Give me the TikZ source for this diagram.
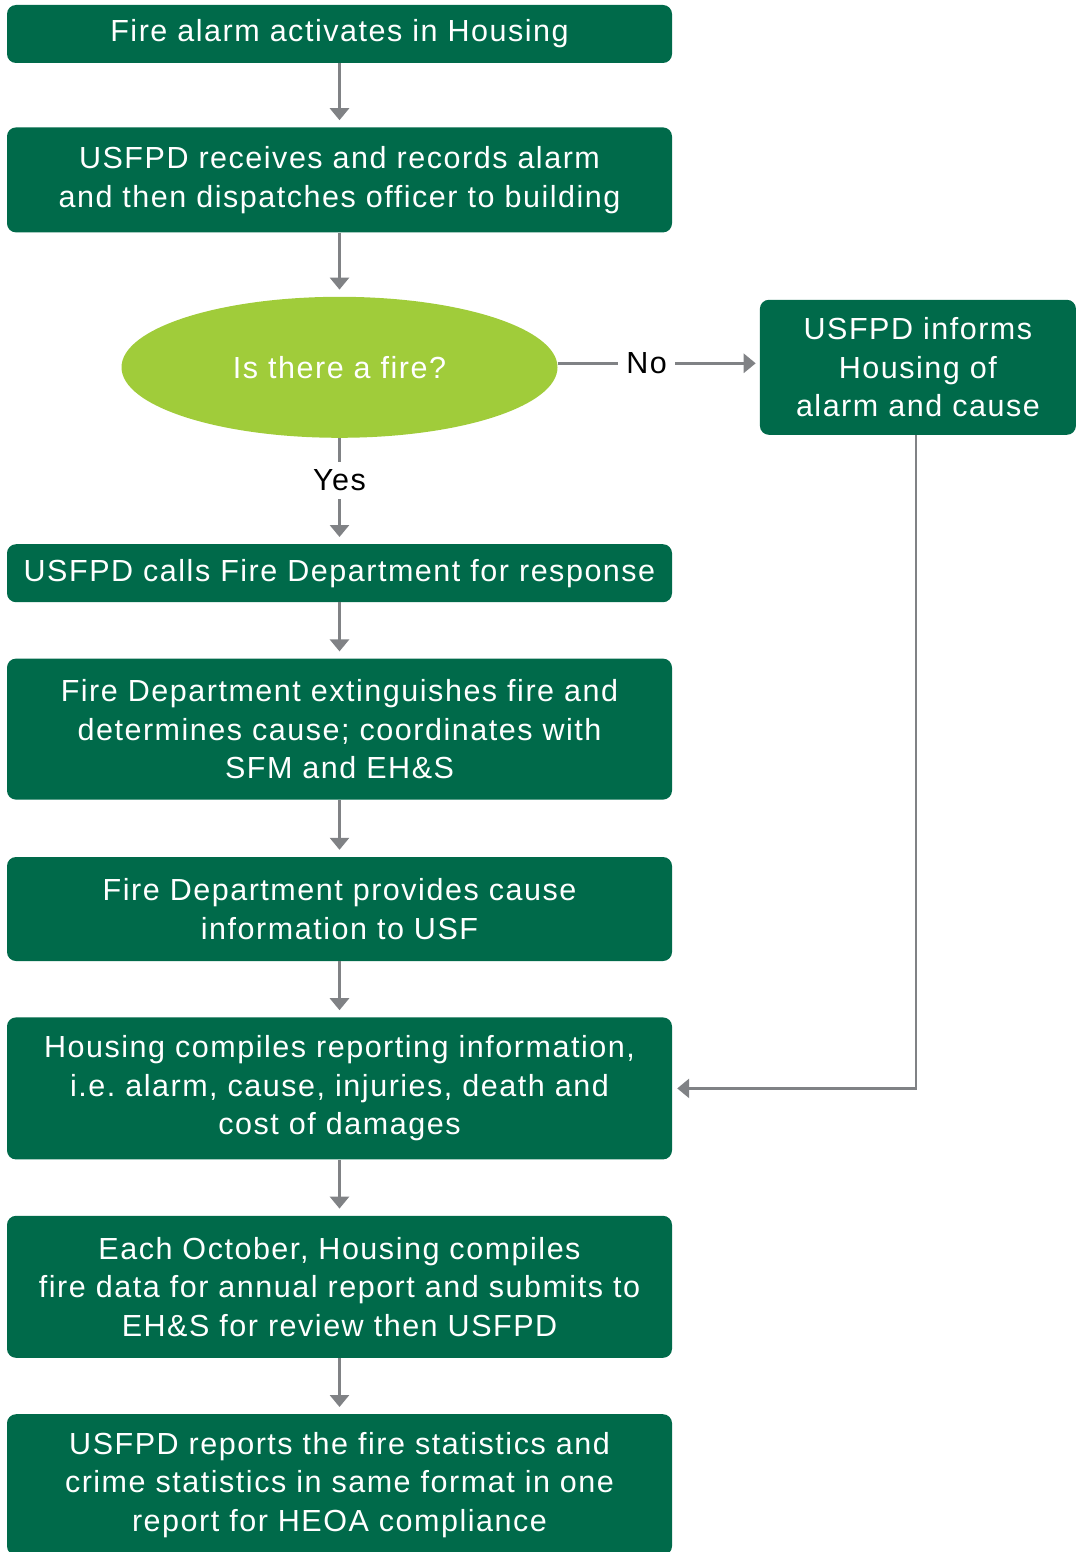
\documentclass[tikz,border=0pt]{standalone}
\usepackage{fontspec}
\setmainfont[LetterSpace=5]{Liberation Sans}
\usetikzlibrary{positioning,shapes.geometric,arrows.meta}
\definecolor{cG}{HTML}{006A4A}
\definecolor{cL}{HTML}{A0CC3A}
\definecolor{cA}{HTML}{808285}
\tikzset{mybox/.style={
  shape=rectangle,
  rounded corners=9pt,
  fill=cG,
  minimum width=665pt,
  inner sep=0pt,
  align=center,
  text = white,
  font=\fontsize{30.5}{38.5}\selectfont,
  }
}
\tikzset{myq/.style={
  shape=ellipse,
  fill=cL,
  minimum width=436pt,
  minimum height=141pt,
  inner sep=0pt,
  text = white,
  font=\fontsize{30.5}{38.5}\selectfont,
  }
}
\tikzset{myarrow/.style={
  draw=cA,
  line width=2.8pt,
  -{Triangle[width=19pt,length=12pt]},
  shorten >=7pt,
  }
}
\tikzset{mylabel/.style={
  fill=white,
  inner sep=8pt,
  text = black,
  font=\fontsize{30.5}{38.5}\selectfont,
  }
}

\begin{document}
\begin{tikzpicture}[x=1pt,y=1pt]
  \useasboundingbox (0,0) rectangle (1078,-1552);
  \node [mybox, minimum height=58pt] (b1) at (339.5,-34) {Fire alarm activates in Housing};
  \node [mybox, minimum height=105pt, below=64pt of b1] (b2) {USFPD receives and records alarm\\and then dispatches officer to building};
  \node [myq, below=64pt of b2] (q) {Is there a fire?};
  \node [mybox, minimum width=316pt, minimum height=135pt, right=202pt of q] (r1) {USFPD informs\\Housing of\\alarm and cause};
  \node [mybox, minimum height=58pt, below=106pt of q] (b3) {USFPD calls Fire Department for response};
  \node [mybox, minimum height=141pt, below=56pt of b3] (b4) {Fire Department extinguishes fire and\\determines cause; coordinates with\\SFM and EH\&S};
  \node [mybox, minimum height=104pt, below=57pt of b4] (b5) {Fire Department provides cause\\information to USF};
  \node [mybox, minimum height=142pt, below=56pt of b5] (b6) {Housing compiles reporting information,\\i.e.\ alarm, cause, injuries, death and\\cost of damages};
  \node [mybox, minimum height=142pt, below=56pt of b6] (b7) {Each October, Housing compiles\\fire data for annual report and submits to\\EH\&S for review then USFPD};
  \node [mybox, minimum height=141pt, below=56pt of b7] (b8) {USFPD reports the fire statistics and\\crime statistics in same format in one\\report for HEOA compliance};

  \draw [myarrow] (b1) -- (b2);
  \draw [myarrow] (b2) -- (q);
  \draw [myarrow] (q) -- node [mylabel, pos=0.4] {Yes} (b3);
  \draw [myarrow, shorten >=4pt] ([yshift=4pt]q.east) -- node [mylabel, pos=0.44] {No} ([yshift=4pt]r1.west);
  \draw [myarrow] (b3) -- (b4);
  \draw [myarrow] (b4) -- (b5);
  \draw [myarrow] (b5) -- (b6);
  \draw [myarrow, shorten >=5pt] ([xshift=-2pt]r1.south) |- (b6.east);
  \draw [myarrow] (b6) -- (b7);
  \draw [myarrow] (b7) -- (b8);
\end{tikzpicture}
\end{document}
